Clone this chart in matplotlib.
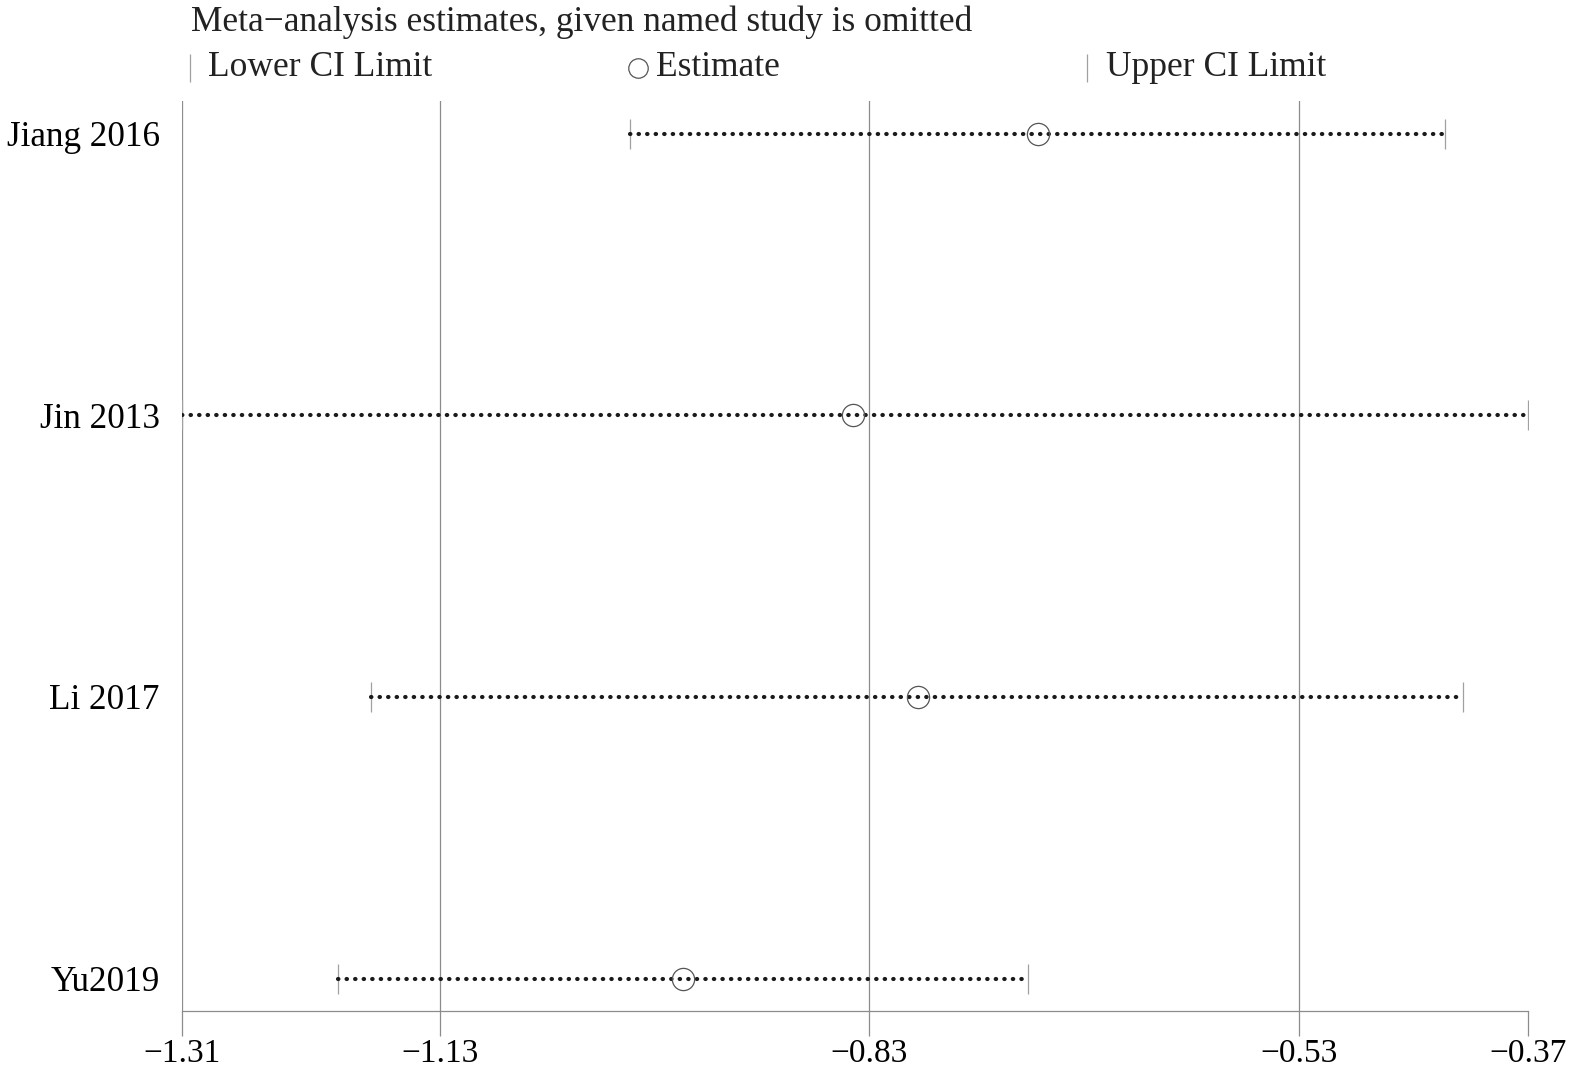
import matplotlib.pyplot as plt
from matplotlib.lines import Line2D

plt.rcParams['font.family'] = ['Liberation Serif', 'DejaVu Serif']

studies = ['Jiang 2016', 'Jin 2013', 'Li 2017', 'Yu2019']
lower = [-0.997, -1.31, -1.178, -1.201]
estimate = [-0.712, -0.841, -0.796, -0.960]
upper = [-0.428, -0.37, -0.415, -0.719]
xticks = [-1.31, -1.13, -0.83, -0.53, -0.37]
gridx = [-1.31, -1.13, -0.83, -0.53]

fig = plt.figure(figsize=(15.77, 10.74), dpi=100)
ax = fig.add_axes([0.1154, 0.059, 0.8533, 0.8473])

ypos = list(range(len(studies)))[::-1]

for g in gridx:
    ax.axvline(g, color='#8c8c8c', lw=0.9, zorder=1)

for i in range(len(studies)):
    y = ypos[i]
    ax.plot([lower[i], upper[i]], [y, y], color='#1a1a1a', lw=3.0,
            linestyle=(0, (0.1, 1.95)), dash_capstyle='round', zorder=3)
    ax.plot([lower[i], upper[i]], [y, y], linestyle='none', marker='|',
            markersize=22, markeredgewidth=0.9, color='#a0a0a0', zorder=2)
    ax.plot(estimate[i], y, marker='o', markersize=16, markerfacecolor='none',
            markeredgecolor='#555555', markeredgewidth=0.9, zorder=4)

ax.set_xlim(-1.31, -0.37)
ax.set_ylim(-0.114, 3.117)
ax.set_xticks(xticks)
ax.set_xticklabels(['\u2212' + f'{abs(v):.2f}' for v in xticks], fontsize=24)
ax.set_yticks(ypos)
ax.set_yticklabels(studies, fontsize=25.3)
ax.tick_params(axis='y', length=0, pad=16)
ax.tick_params(axis='x', length=18, width=0.9, color='#8c8c8c', pad=2)
for s in ['top', 'right', 'left']:
    ax.spines[s].set_visible(False)
ax.spines['bottom'].set_color('#8c8c8c')
ax.spines['bottom'].set_linewidth(0.9)

# title and legend row
fs = 25.5
fig.text(191 / 1577, 1 - 22 / 1074, 'Meta\u2212analysis estimates, given named study is omitted',
         fontsize=fs, va='center', ha='left', color='#222222')
ly = 1 - 68 / 1074
fig.add_artist(Line2D([190 / 1577], [ly], marker='|', markersize=20, markeredgewidth=0.9,
                      color='#a0a0a0', transform=fig.transFigure))
fig.text(208 / 1577, ly, 'Lower CI Limit', fontsize=fs, va='center', ha='left', color='#222222')
fig.add_artist(Line2D([638 / 1577], [ly], marker='o', markersize=14, markerfacecolor='none',
                      markeredgecolor='#555555', markeredgewidth=0.9, transform=fig.transFigure))
fig.text(656 / 1577, ly, 'Estimate', fontsize=fs, va='center', ha='left', color='#222222')
fig.add_artist(Line2D([1087 / 1577], [ly], marker='|', markersize=20, markeredgewidth=0.9,
                      color='#a0a0a0', transform=fig.transFigure))
fig.text(1106 / 1577, ly, 'Upper CI Limit', fontsize=fs, va='center', ha='left', color='#222222')

fig.savefig('out.png', dpi=100)
